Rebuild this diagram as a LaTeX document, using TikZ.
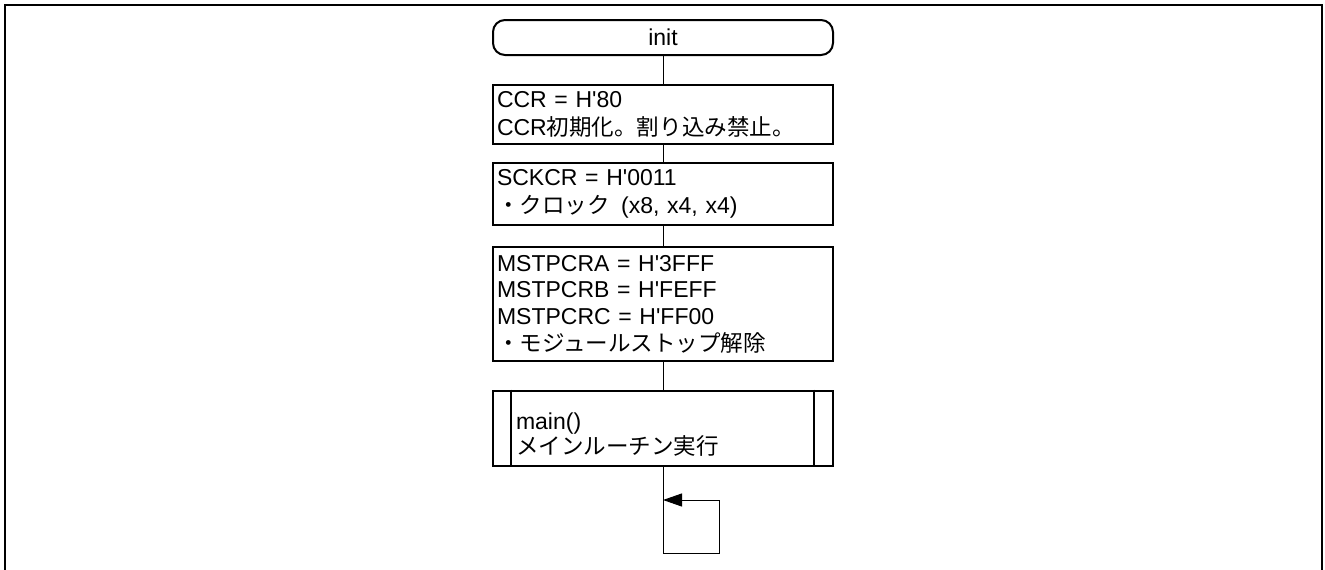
\documentclass[tikz,border=0pt]{standalone}
\usepackage{fontspec}
\setmainfont{Liberation Sans}
\newfontfamily\jpfont{Noto Sans CJK JP}[Scale=0.98]
\usetikzlibrary{arrows.meta,positioning}
\newcommand{\ja}[1]{{\jpfont #1}}
\newcommand{\hq}{H\textquotesingle}

\begin{document}
\begin{tikzpicture}[x=1pt,y=-1pt,font=\fontsize{23}{27.5}\selectfont,
    flow/.style={line width=1pt},
    termbox/.style={draw,line width=2pt,rounded corners=12pt,
                    minimum width=340pt,minimum height=35pt,inner sep=0pt},
    procbox/.style={draw,line width=2pt,minimum width=340pt,text width=332pt,
                    inner xsep=4pt,inner ysep=0pt,align=left},
    subbox/.style={procbox,text width=294pt,inner xsep=23pt}]
  \useasboundingbox (0,0) rectangle (1325,570);
  \draw[line width=2.5pt] (5,570) -- (5,5) -- (1322,5) -- (1322,570);

  \node[termbox] (init) at (663,37.5) {init};
  \node[procbox,minimum height=59pt] (ccr) at (663,114.5)
    {CCR = \hq 80\\CCR\ja{初期化。割り込み禁止。}};
  \node[procbox,minimum height=62pt] (sckcr) at (663,194)
    {SCKCR = \hq 0011\\\ja{・クロック}\hspace{0.5em}(x8, x4, x4)};
  \node[procbox,minimum height=114pt,font=\fontsize{23}{26.7}\selectfont] (mstp) at (663,304)
    {MSTPCRA = \hq 3FFF\\MSTPCRB = \hq FEFF\\MSTPCRC = \hq FF00\\\ja{・モジュールストップ解除}};
  \node[subbox,minimum height=75pt,font=\fontsize{23}{23}\selectfont] (mainr) at (663,428)
    {\rule{0pt}{30pt}main()\\\ja{メインルーチン実行}};
  \draw[line width=1.5pt] ([xshift=19pt]mainr.north west) -- ([xshift=19pt]mainr.south west)
                          ([xshift=-20pt]mainr.north east) -- ([xshift=-20pt]mainr.south east);

  \coordinate (loopb) at (663,553);
  \coordinate (loopr) at (719,553);
  \coordinate (loopt) at (719,500);
  \coordinate (looptip) at (663,500);

  \draw[flow] (init) -- (ccr);
  \draw[flow] (ccr) -- (sckcr);
  \draw[flow] (sckcr) -- (mstp);
  \draw[flow] (mstp) -- (mainr);
  \draw[flow] (mainr) -- (loopb) -- (loopr) -- (loopt);
  \draw[flow,-{Triangle[length=19pt,width=13pt]}] (loopt) -- (looptip);
\end{tikzpicture}
\end{document}
